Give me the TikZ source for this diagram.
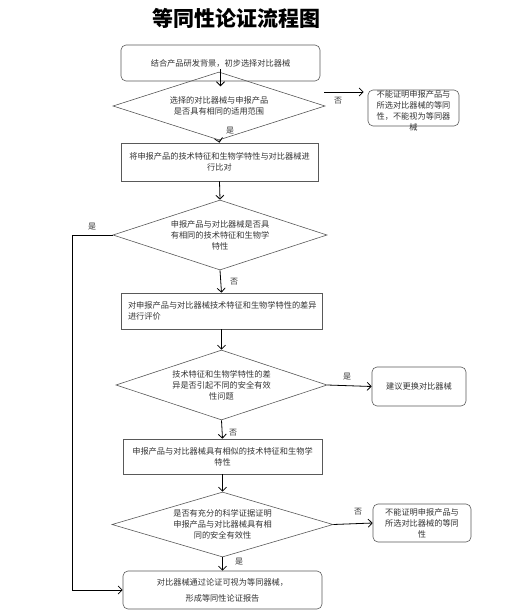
\documentclass[tikz,border=0pt]{standalone}
\usepackage{fontspec}
\setmainfont{Noto Sans CJK SC}
\usetikzlibrary{shapes.geometric,arrows.meta}
\begin{document}
\begin{tikzpicture}[x=1pt,y=-1pt,
  txt/.style={text=black!80,font=\fontsize{8.2}{11}\selectfont,align=center},
  procbox/.style={draw=black!65,line width=0.6pt,inner sep=2pt,txt},
  roundbox/.style={procbox,rounded corners=5pt},
  decide/.style={draw=black!65,line width=0.6pt,diamond,inner sep=0pt},
  arr/.style={draw=black,line width=0.8pt,-{Straight Barb[length=4pt,width=8pt]}},
  lbl/.style={text=black!80,font=\fontsize{8}{9}\selectfont,inner sep=0pt}]
\useasboundingbox (0,0) rectangle (520,615);
\node[font=\fontsize{21}{24}\selectfont\bfseries] (title) at (236,18) {等同性论证流程图};
\node[roundbox,minimum width=199pt,minimum height=36pt] (b1) at (220.5,63) {结合产品研发背景，初步选择对比器械};
\node[decide,minimum width=212pt,minimum height=68pt] (d1) at (219,106) {};
\node[txt] (t1) at (d1.center) {选择的对比器械与申报产品\\是否具有相同的适用范围};
\node[roundbox,minimum width=91pt,minimum height=36pt] (n1) at (413.5,108) {};
\node[txt] (tn1) at (413.5,111) {不能证明申报产品与\\所选对比器械的等同\\性，不能视为等同器\\械};
\node[procbox,minimum width=197pt,minimum height=38pt] (b2) at (219.5,162) {将申报产品的技术特征和生物学特性与对比器械进\\行比对};
\node[decide,minimum width=214pt,minimum height=70pt] (d2) at (220,235) {};
\node[txt] (t2) at (d2.center) {申报产品与对比器械是否具\\有相同的技术特征和生物学\\特性};
\node[procbox,minimum width=201pt,minimum height=36pt,text width=187pt,align=left] (b3) at (221.5,311) {对申报产品与对比器械技术特征和生物学特性的差异\\进行评价};
\node[decide,minimum width=211pt,minimum height=70pt] (d3) at (221.5,385) {};
\node[txt] (t3) at (d3.center) {技术特征和生物学特性的差\\异是否引起不同的安全有效\\性问题};
\node[roundbox,minimum width=94pt,minimum height=39pt] (b4) at (419,386.5) {建议更换对比器械};
\node[procbox,minimum width=199pt,minimum height=35pt] (b5) at (222.5,456.5) {申报产品与对比器械具有相似的技术特征和生物学\\特性};
\node[decide,minimum width=221pt,minimum height=65pt] (d4) at (222.5,524.5) {};
\node[txt] (t4) at (d4.center) {是否有充分的科学证据证明\\申报产品与对比器械具有相\\同的安全有效性};
\node[roundbox,minimum width=98pt,minimum height=38pt] (b6) at (422,523) {不能证明申报产品与\\所选对比器械的等同\\性};
\node[roundbox,minimum width=199pt,minimum height=38pt] (b7) at (222.5,590) {对比器械通过论证可视为等同器械，\\[5pt]形成等同性论证报告};
% connectors
\draw[arr] ([yshift=12pt]b1.south) -- ([yshift=-5pt]b1.south);
\coordinate (n1a) at ([yshift=16pt]n1.west);
\draw[arr] (d1.east |- n1a) ++(-1,0) coordinate (d1o) -- ([xshift=-4pt]n1a);
\draw[arr] (d1.south) -- (b2.north);
\draw[arr] (b2.south) -- (d2.north);
\draw[arr] (d2.west) -- ++(-40,0) |- (b7.west);
\draw[arr] (d2.south) -- (b3.north);
\draw[arr] (b3.south) -- (d3.north);
\draw[arr] (d3.east) -- (b4.west);
\draw[arr] (d3.south) -- (b5.north);
\draw[arr] (b5.south) -- (d4.north);
\draw[arr] (d4.east) -- (b6.west);
\draw[arr] (d4.south) -- (b7.north);
% labels
\node[lbl] (l1) at (338,101) {否};
\node[lbl] (l2) at (230,131) {是};
\node[lbl] (l3) at (92,227) {是};
\node[lbl] (l4) at (234,282) {否};
\node[lbl] (l5) at (347,377) {是};
\node[lbl] (l6) at (233,433) {否};
\node[lbl] (l7) at (358,512) {否};
\node[lbl] (l8) at (239,562) {是};
\end{tikzpicture}
\end{document}
